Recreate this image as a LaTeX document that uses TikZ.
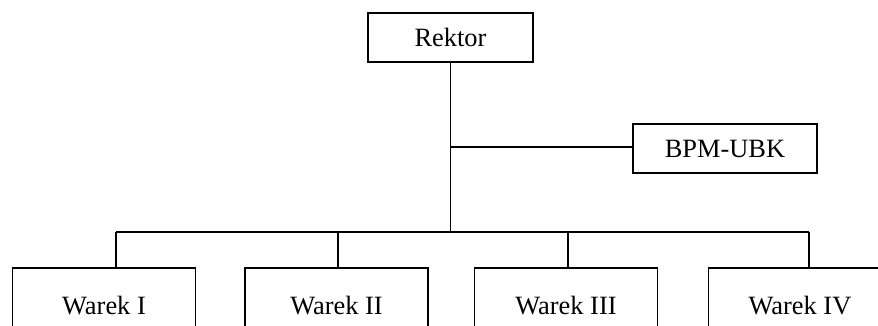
\documentclass[tikz,border=0pt]{standalone}
\usepackage{fontspec}
\setmainfont{Liberation Serif}
\tikzset{every picture/.style={line width=1.3pt}}
\tikzset{
  orgbox/.style={draw, rectangle, inner sep=0.75pt, font=\fontsize{19.8}{22}\selectfont},
  topbox/.style={orgbox, minimum width=123.75pt, minimum height=36.75pt},
  sidebox/.style={orgbox, minimum width=138pt, minimum height=36.75pt},
  warekbox/.style={orgbox, minimum width=137.25pt, minimum height=57pt}
}
\begin{document}
\begin{tikzpicture}[x=0.75pt,y=0.75pt,yscale=-1,xscale=1]
\useasboundingbox (0,0) rectangle (878,325);
\clip (0,0) rectangle (878,325);

% Boxes
\node [topbox] (rektor) at (450.5,37.5) {Rektor};
\node [sidebox] (bpm) at (725,148.5) {BPM-UBK};
\node [warekbox] (w1) at (104,306) {Warek I};
\node [warekbox] (w2) at (336.5,306) {Warek II};
\node [warekbox] (w3) at (566,306) {Warek III};
\node [warekbox] (w4) at (800,306) {Warek IV};

% Junctions
\coordinate (jn) at (450.5,147);
\coordinate (bus) at (450.5,232);
\coordinate (b1) at (116,232);
\coordinate (b2) at (338,232);
\coordinate (b3) at (568,232);
\coordinate (b4) at (809,232);

%Straight Lines
\draw (rektor.south) -- (bus) ;
\draw (jn) -- (jn -| bpm.west) ;
\draw (b1) -- (b4) ;
\draw (b1) -- (b1 |- w1.north) ;
\draw (b2) -- (b2 |- w2.north) ;
\draw (b3) -- (b3 |- w3.north) ;
\draw (b4) -- (b4 |- w4.north) ;

\end{tikzpicture}
\end{document}
